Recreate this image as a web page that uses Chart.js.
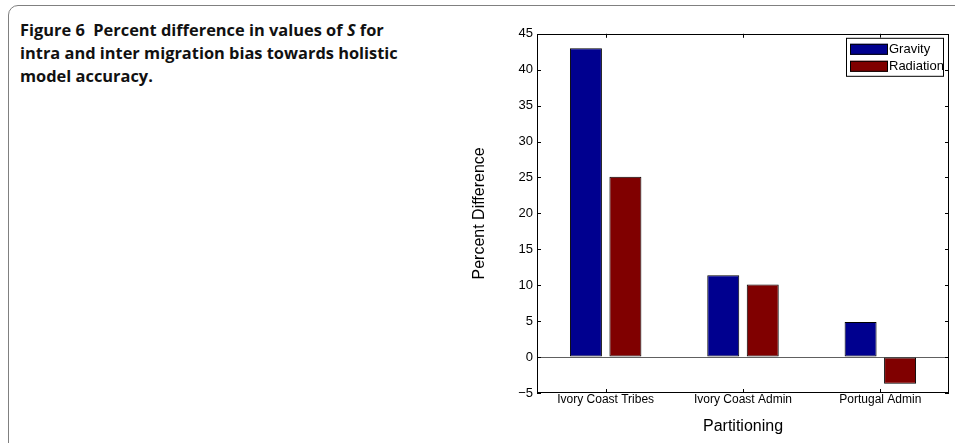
<!DOCTYPE html>
<html>
<head>
<meta charset="utf-8">
<script src="https://cdn.jsdelivr.net/npm/chart.js@4/dist/chart.umd.min.js"></script>
<style>
  body { margin: 0; background: #fff; width: 955px; height: 443px; overflow: hidden; position: relative; }
  #frame {
    position: absolute; left: 8px; top: 5px; width: 980px; height: 470px;
    border: 1.5px solid #808080; border-radius: 10px; box-sizing: border-box;
  }
  #caption {
    position: absolute; left: 20px; top: 18px; width: 300px;
    font-family: "Open Sans", "Noto Sans", sans-serif; font-weight: bold;
    font-size: 16.4px; line-height: 23px; color: #111; white-space: nowrap;
  }
  #wrap { position: absolute; left: 470px; top: 22px; width: 485px; height: 420px; }
</style>
</head>
<body>
<div id="frame"></div>
<div id="caption">Figure 6&nbsp; Percent difference in values of <i>S</i> for<br>intra and inter migration bias towards holistic<br>model accuracy.</div>
<div id="wrap"><canvas id="grafico"></canvas></div>
<script>
// datos de la figura
const categorias = ['Ivory Coast Tribes', 'Ivory Coast Admin', 'Portugal Admin'];
const gravity = [43.0, 11.4, 4.9];
const radiation = [25.1, 10.1, -3.7];
const series = ['Gravity', 'Radiation'];
const colores = ['#00008f', '#800000'];

Chart.defaults.font.family = 'Arial, "Liberation Sans", sans-serif';
Chart.defaults.color = '#000';

// marco tipo matlab: caja, marcas hacia dentro y leyenda
const cajaMatlab = {
  id: 'cajaMatlab',
  afterDraw(chart) {
    const ctx = chart.ctx;
    const a = chart.chartArea;
    const x = chart.scales.x, y = chart.scales.y;
    ctx.save();
    ctx.strokeStyle = '#000';
    ctx.lineWidth = 1;
    ctx.strokeRect(Math.round(a.left) + 0.5, Math.round(a.top) + 0.5,
      Math.round(a.right - a.left) - 1, Math.round(a.bottom - a.top) - 1);
    ctx.beginPath();
    y.ticks.forEach(t => {
      const py = Math.round(y.getPixelForValue(t.value)) + 0.5;
      ctx.moveTo(a.left, py); ctx.lineTo(a.left + 4, py);
      ctx.moveTo(a.right, py); ctx.lineTo(a.right - 4, py);
    });
    x.ticks.forEach((t, i) => {
      const px = Math.round(x.getPixelForTick(i)) + 0.5;
      ctx.moveTo(px, a.top); ctx.lineTo(px, a.top + 4);
      ctx.moveTo(px, a.bottom); ctx.lineTo(px, a.bottom - 4);
    });
    ctx.stroke();

    // leyenda
    const lx = a.right - 103, ly = a.top + 4;
    ctx.fillStyle = '#fff';
    ctx.fillRect(lx, ly, 98, 39);
    ctx.strokeRect(lx + 0.5, ly + 0.5, 97, 38);
    ctx.font = '13px Arial, "Liberation Sans", sans-serif';
    ctx.textBaseline = 'middle';
    chart.data.datasets.forEach((ds, i) => {
      const sy = ly + 6 + i * 17;
      ctx.fillStyle = ds.backgroundColor;
      ctx.fillRect(lx + 4, sy, 38, 11);
      ctx.strokeRect(lx + 4.5, sy + 0.5, 37, 10);
      ctx.fillStyle = '#000';
      ctx.fillText(ds.label, lx + 43, sy + 6);
    });
    ctx.restore();
  }
};

new Chart(document.getElementById('grafico'), {
  type: 'bar',
  data: {
    labels: categorias,
    datasets: [
      { label: series[0], data: gravity, backgroundColor: colores[0] },
      { label: series[1], data: radiation, backgroundColor: colores[1] }
    ]
  },
  options: {
    responsive: true,
    maintainAspectRatio: false,
    animation: false,
    layout: { padding: { top: 9, right: 6, left: 0, bottom: 0 } },
    datasets: {
      bar: {
        categoryPercentage: 0.575,
        barPercentage: 0.81,
        borderColor: '#000',
        borderWidth: 1,
        borderSkipped: false
      }
    },
    plugins: {
      legend: { display: false },
      tooltip: { enabled: false }
    },
    scales: {
      x: {
        grid: { display: false, drawTicks: false },
        border: { display: false },
        ticks: { font: { size: 12 }, padding: -1, maxRotation: 0 },
        title: { display: true, text: 'Partitioning', font: { size: 16 }, padding: { top: 0, bottom: 6 } },
        afterFit: s => { s.height = 49; }
      },
      y: {
        min: -5,
        max: 45,
        ticks: {
          stepSize: 5,
          font: { size: 13 },
          padding: 4,
          callback: v => String(v).replace('-', '\u2212')
        },
        grid: {
          drawTicks: false,
          color: c => c.tick && c.tick.value === 0 ? '#606060' : 'rgba(0,0,0,0)'
        },
        border: { display: false },
        title: { display: true, text: 'Percent Difference', font: { size: 16 }, padding: { top: 0, bottom: 0 } },
        afterFit: s => { s.width = 67; }
      }
    }
  },
  plugins: [cajaMatlab]
});
</script>
</body>
</html>
